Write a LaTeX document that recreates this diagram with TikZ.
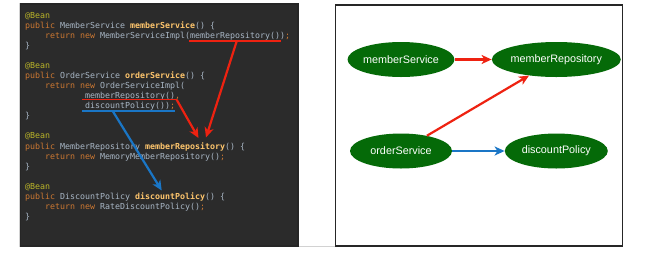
\documentclass[tikz,border=0pt]{standalone}
\usepackage{fontspec}
\setmainfont{Liberation Sans}
\newfontfamily\codefont{DejaVu Sans Mono}
\usetikzlibrary{shapes.geometric,arrows.meta}
\definecolor{codebg}{HTML}{2B2B2B}
\definecolor{codefg}{HTML}{A9B7C6}
\definecolor{kwcol}{HTML}{CC7832}
\definecolor{ancol}{HTML}{BBB529}
\definecolor{fncol}{HTML}{FFC66D}
\definecolor{arrred}{HTML}{EE2211}
\definecolor{arrblue}{HTML}{1A76C6}
\definecolor{beangreen}{HTML}{056A08}
\newcommand\kwd[1]{\textcolor{kwcol}{#1}}
\newcommand\ann[1]{\textcolor{ancol}{#1}}
\newcommand\fnm[1]{\textcolor{fncol}{\bfseries #1}}
\tikzset{
  codeline/.style={anchor=base west, inner sep=0pt, text=codefg,
    font=\codefont\fontsize{8.3}{10}\selectfont},
  bean/.style={ellipse, fill=beangreen, text=white, inner sep=0pt,
    minimum height=35pt, font=\fontsize{10.8}{12}\selectfont},
  redarrow/.style={draw=arrred, line width=2.2pt,
    -{Stealth[length=10pt,width=9pt,inset=2.8pt]}},
  bluearrow/.style={draw=arrblue, line width=2.2pt,
    -{Stealth[length=10pt,width=9pt,inset=2.8pt]}},
  redline/.style={draw=arrred, line width=1.7pt},
  blueline/.style={draw=arrblue, line width=1.7pt},
}
\begin{document}
\begin{tikzpicture}[x=1pt,y=-1pt]
\useasboundingbox (0,0) rectangle (647,255);
% panels
\draw[gray!35, line width=0.8pt] (20,246.8) -- (335,246.8);
\draw[gray!35, line width=0.8pt] (19.5,3) rectangle (298.8,246.8);
\draw[fill=codebg, draw=black!85, line width=1.4pt] (20.5,4) rectangle (298,245.8);
\draw[fill=white, draw=black!85, line width=1.5pt] (335.5,5) rectangle (622.5,246.2);
% code lines (baseline = centre + 3)
\def\ly#1{\fpeval{18+10.08*#1}}
\node[codeline] (c0)  at (25,\ly{0})  {\ann{@Bean}};
\node[codeline] (c1)  at (25,\ly{1})  {\kwd{public} MemberService \fnm{memberService}() \{};
\node[codeline] (c2)  at (45,\ly{2})  {\kwd{return new} MemberServiceImpl(memberRepository())\kwd{;}};
\node[codeline] (c3)  at (25,\ly{3})  {\}};
\node[codeline] (c5)  at (25,\ly{5})  {\ann{@Bean}};
\node[codeline] (c6)  at (25,\ly{6})  {\kwd{public} OrderService \fnm{orderService}() \{};
\node[codeline] (c7)  at (45,\ly{7})  {\kwd{return new} OrderServiceImpl(};
\node[codeline] (c8)  at (85,\ly{8})  {memberRepository()\kwd{,}};
\node[codeline] (c9)  at (85,\ly{9})  {discountPolicy())\kwd{;}};
\node[codeline] (c10) at (25,\ly{10}) {\}};
\node[codeline] (c12) at (25,\ly{12}) {\ann{@Bean}};
\node[codeline] (c13) at (25,\ly{13}) {\kwd{public} MemberRepository \fnm{memberRepository}() \{};
\node[codeline] (c14) at (45,\ly{14}) {\kwd{return new} MemoryMemberRepository()\kwd{;}};
\node[codeline] (c15) at (25,\ly{15}) {\}};
\node[codeline] (c17) at (25,\ly{17}) {\ann{@Bean}};
\node[codeline] (c18) at (25,\ly{18}) {\kwd{public} DiscountPolicy \fnm{discountPolicy}() \{};
\node[codeline] (c19) at (45,\ly{19}) {\kwd{return new} RateDiscountPolicy()\kwd{;}};
\node[codeline] (c20) at (25,\ly{20}) {\}};
% underline and arrow end points
\coordinate (u1a) at (189,40.8);
\coordinate (u1b) at (281,40.8);
\coordinate (u2a) at (82,99.5);
\coordinate (u2b) at (177,99.5);
\coordinate (u3a) at (82,111.3);
\coordinate (u3b) at (174.5,111.3);
\coordinate (a1s) at (236.7,41.2);
\coordinate (a1e) at (206,137.5);
\coordinate (a2s) at (176.7,99.8);
\coordinate (a2e) at (198.5,138);
\coordinate (a3s) at (113,111.5);
\coordinate (a3e) at (161.7,190.5);
\draw[redline] (u1a) -- (u1b);
\draw[redline] (u2a) -- (u2b);
\draw[blueline] (u3a) -- (u3b);
\draw[redarrow] (a1s) -- (a1e);
\draw[redarrow] (a2s) -- (a2e);
\draw[bluearrow] (a3s) -- (a3e);
% bean graph
\node[bean, minimum width=102pt] (ms) at (401,59.5) {memberService};
\node[bean, minimum width=121pt] (mr) at (556.3,59.5) {memberRepository};
\node[bean, minimum width=102pt] (os) at (401,151) {orderService};
\node[bean, minimum width=103pt] (dp) at (556.3,151) {discountPolicy};
\draw[redarrow] (ms) -- (mr);
\draw[redarrow] (os) -- (mr);
\draw[bluearrow] (os) -- (dp);
\end{tikzpicture}
\end{document}
